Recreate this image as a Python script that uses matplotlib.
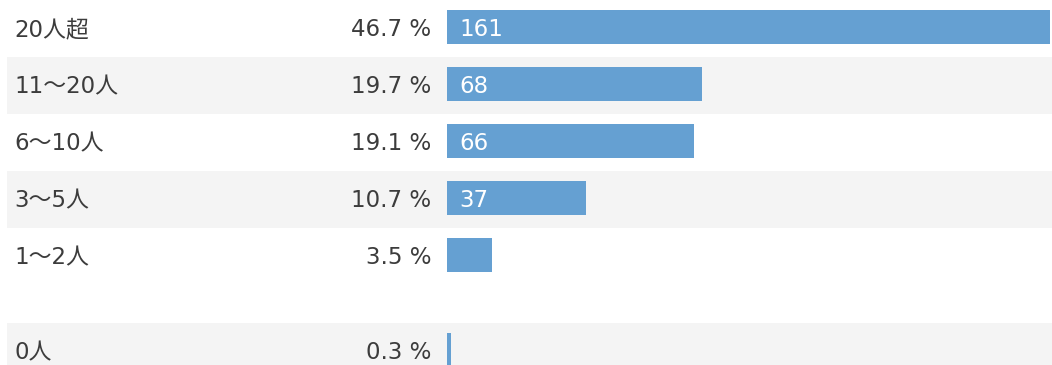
import matplotlib
matplotlib.use("Agg")
import matplotlib.pyplot as plt
from matplotlib.patches import Rectangle

# Response counts per group size
categories = ["20人超", "11〜20人", "6〜10人", "3〜5人", "1〜2人", "0人"]
counts = [161, 68, 66, 37, 12, 1]

W, H = 1052, 365
fig = plt.figure(figsize=(W / 100, H / 100), dpi=100)
fig.patch.set_facecolor("white")

FONT = ["DejaVu Sans", "Noto Sans CJK JP"]
TEXT_COLOR = "#3c3c3c"
BAR_COLOR = "#65a0d2"
STRIPE = "#f4f4f4"
FS = 16.5

# Row layout in pixels (top-down); a gap separates the last row
row_h = 57
gap = 38
row_tops = [i * row_h for i in range(len(categories) - 1)]
row_tops.append(row_tops[-1] + row_h + gap)
bar_off, bar_h = 10, 34
baseline = 36

# Background axis in pixel coordinates: stripes and text
bg = fig.add_axes([0, 0, 1, 1])
bg.set_xlim(0, W)
bg.set_ylim(H, 0)
bg.axis("off")

total = sum(counts)
for i, (cat, top) in enumerate(zip(categories, row_tops)):
    if i % 2 == 1:
        bg.add_patch(Rectangle((7, top), W - 7, row_h, color=STRIPE, lw=0, zorder=0))
    yb = top + baseline
    bg.text(14, yb, cat, fontsize=FS, color=TEXT_COLOR, family=FONT,
            va="baseline", ha="left")
    pct = counts[i] / total * 100
    bg.text(431, yb, f"{pct:.1f} %", fontsize=FS, color=TEXT_COLOR,
            family=FONT, va="baseline", ha="right")

# Bar axis: spans the bar area, x in counts, y in pixels
x0, x1 = 447, 1050
ax = fig.add_axes([x0 / W, 0, (x1 - x0) / W, 1])
ax.set_xlim(0, max(counts))
ax.set_ylim(H, 0)
ax.axis("off")
ax.patch.set_alpha(0)

centers = [t + bar_off + bar_h / 2 for t in row_tops]
ax.barh(centers, counts, height=bar_h, color=BAR_COLOR, lw=0)

px_per_unit = (x1 - x0) / max(counts)
for t, v in zip(row_tops, counts):
    if v * px_per_unit > 60:
        ax.annotate(str(v), xy=(0, t + baseline), xytext=(12, 0),
                    textcoords="offset pixels", fontsize=FS,
                    color="white", family=FONT, va="baseline", ha="left")

fig.savefig("out.png", dpi=100, facecolor="white")
